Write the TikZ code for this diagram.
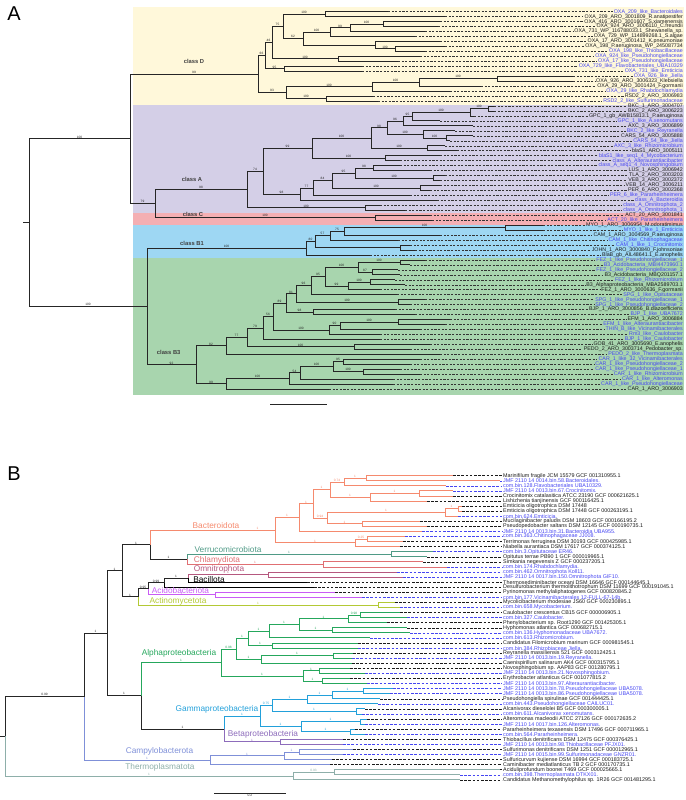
\documentclass[tikz,border=0pt]{standalone}
\usepackage{fontspec}
\setmainfont{Liberation Sans}

\definecolor{bgD}{HTML}{FFF8DA}
\definecolor{bgA}{HTML}{D4CFE7}
\definecolor{bgC}{HTML}{F4AFB3}
\definecolor{bgBa}{HTML}{9ED7F3}
\definecolor{bgBb}{HTML}{A8D5AE}
\definecolor{lb}{HTML}{4646F2}
\definecolor{lk}{HTML}{1A1A1A}
\definecolor{cBac}{HTML}{F58A6E}
\definecolor{cVer}{HTML}{4F9A86}
\definecolor{cChl}{HTML}{E06F73}
\definecolor{cOmn}{HTML}{B5587F}
\definecolor{cAci}{HTML}{C95BF5}
\definecolor{cAct}{HTML}{B3C935}
\definecolor{cAlp}{HTML}{25A75C}
\definecolor{cGam}{HTML}{22A0DA}
\definecolor{cBet}{HTML}{8D6CBB}
\definecolor{cCam}{HTML}{7F90D8}
\definecolor{cThe}{HTML}{8EAFAA}

\tikzset{
  tb/.style={line width=0.9pt, color=black!85},
  bs/.style={pos=.75, above, inner sep=0.3pt, font=\fontsize{3.2}{3.2}\selectfont},
  lfA/.style={anchor=east, inner sep=0pt, font=\fontsize{5.3}{5.3}\selectfont},
  lfB/.style={anchor=west, inner sep=0pt, font=\fontsize{5.4}{5.4}\selectfont},
  dsA/.style={line width=.5pt, dash pattern=on 2.2pt off 1.4pt, black!80, shorten >=1pt},
  dsB/.style={line width=.55pt, dash pattern=on 2.6pt off 1.6pt, shorten >=1pt},
  cls/.style={font=\bfseries\fontsize{5.8}{6}\selectfont, text=black!75, inner sep=0pt},
  clb/.style={font=\fontsize{8.3}{8.5}\selectfont, inner sep=0pt},
  pan/.style={font=\fontsize{20}{20}\selectfont, inner sep=0pt}
}
% one branch of a rectangular tree: parent |- child, support value on top
\newcommand{\branch}[4][]{\draw[tb,#1] (#3) |- node[bs]{#2} (#4);}

\begin{document}
\catcode`\_=12
\begin{tikzpicture}[x=1pt,y=-1pt]
\useasboundingbox (0,0) rectangle (685,800);

% panel A
\fill[bgD] (133,7.5) rectangle (684,104.5);
\fill[bgA] (133,104.5) rectangle (684,213);
\fill[bgC] (133,213) rectangle (684,224.5);
\fill[bgBa] (133,224.5) rectangle (684,258);
\fill[bgBb] (133,258) rectangle (684,394.5);
\node[pan] (pA) at (14,14) {A};

\begin{scope}[y=-4.965pt, yshift=-6.735pt]
% class D
\coordinate (d1) at (325,1.5);
\coordinate (d2) at (383,3.5);
\coordinate (d3) at (350,4.25);
\coordinate (d4) at (330,5.13);
\coordinate (d5) at (395,8.5);
\coordinate (d7) at (375,7.75);
\coordinate (d6) at (303,6.44);
\coordinate (d8) at (283,3.97);
\coordinate (d9) at (338,10.5);
\coordinate (d10) at (272,7.23);
\coordinate (d11) at (284,12.5);
\coordinate (d12) at (265,9.87);
\coordinate (d13b) at (497,14.5);
\coordinate (d13) at (419,15.25);
\coordinate (d14) at (372,16.13);
\coordinate (d15) at (326,18.5);
\coordinate (d16) at (286,17.31);
\coordinate (D0) at (258,13.59);
% class A / C
\coordinate (nE) at (488,20.5);
\coordinate (nF) at (470,21.25);
\coordinate (nG) at (412,22.13);
\coordinate (nH) at (403,23.06);
\coordinate (nI) at (446,26.5);
\coordinate (nI2) at (423,25.75);
\coordinate (nC) at (387,24.41);
\coordinate (nD) at (427,28.5);
\coordinate (nA) at (371,26.45);
\coordinate (nB) at (385,30.5);
\coordinate (A11) at (312,28.48);
\coordinate (nM) at (373,32.5);
\coordinate (nN) at (433,34.5);
\coordinate (nL) at (355,33.5);
\coordinate (nP) at (420,36.5);
\coordinate (nK) at (332,35);
\coordinate (nJ) at (313,36.5);
\coordinate (nQ) at (300,37.75);
\coordinate (A1) at (263,33.11);
\coordinate (nS) at (365,40.5);
\coordinate (Aroot) at (247,36.81);
\coordinate (Croot) at (375,42.5);
\coordinate (ACroot) at (155,39.65);
\coordinate (Top) at (130,26.62);
% class B1
\coordinate (p1) at (505,44.5);
\coordinate (p2) at (344,45.25);
\coordinate (p3) at (330,46.13);
\coordinate (p4) at (400,48.5);
\coordinate (p5) at (315,47.31);
\coordinate (B1) at (306,48.66);
% class B3
\coordinate (nU1) at (400,51.5);
\coordinate (nU2) at (372,53.5);
\coordinate (nU) at (358,52.5);
\coordinate (nT1) at (370,55.5);
\coordinate (nT) at (348,56.25);
\coordinate (B3h) at (325,54.38);
\coordinate (B3g) at (311,56.19);
\coordinate (nV) at (398,59.5);
\coordinate (B3f) at (296,57.84);
\coordinate (nW) at (313,61.5);
\coordinate (B3e) at (286,59.67);
\coordinate (nX2) at (398,63.5);
\coordinate (nX1) at (340,64.25);
\coordinate (nX) at (329,65.13);
\coordinate (B3d) at (273,62.4);
\coordinate (B3c) at (263,64.7);
\coordinate (nY) at (354,68.5);
\coordinate (B3b) at (247,66.6);
\coordinate (B3a) at (226,68.3);
\coordinate (nZ4) at (343,71.5);
\coordinate (nZ5) at (363,73.5);
\coordinate (nZ3) at (333,72.5);
\coordinate (nZ2) at (300,73.75);
\coordinate (nZ1) at (289,74.88);
\coordinate (B3z) at (226,75.94);
\coordinate (B3) at (196,72.12);
\coordinate (Broot) at (147,60.39);
\coordinate (Root) at (29,43.5);
\coordinate (Rs) at (23,43.5);

\foreach \i/\pa/\tx/\col/\txt in {
 1/d1/388/lb/OXA_209_like_Bacteroidales,
 2/d1/445/lk/OXA_209_ARO_3001809_R.anatipestifer,
 3/d2/440/lk/OXA_416_ARO_3001607_S.xiamenensis,
 4/d2/438/lk/OXA_924_ARO_3006110_C.freundii,
 5/d3/425/lk/OXA_731_WP_116788033.1_Shewanella_sp.,
 6/d4/415/lk/OXA_729_WP_114899268.1_S.algae,
 7/d7/440/lk/OXA_17_ARO_3001412_K.pneumoniae,
 8/d5/445/lk/OXA_198_P.aeruginosa_WP_245087734,
 9/d5/425/lb/OXA_198_like_Thiobacillaceae,
 10/d9/420/lb/OXA_924_like_Pseudohongiellaceae,
 11/d9/398/lb/OXA_17_like_Pseudohongiellaceae,
 12/d11/362/lb/OXA_729_like_Flavobacteriales_UBA10329,
 13/d11/362/lb/OXA_731_like_Emticicia,
 14/d13b/573/lb/OXA_926_like_Jiella,
 15/d13b/573/lk/OXA_926_ARO_3006323_Klebsiella,
 16/d13/481/lk/OXA_29_ARO_3001424_F.gormanii,
 17/d14/450/lb/OXA_29_like_Rhabdochlamydia,
 18/d15/373/lk/RSD2_2_ARO_3006983,
 19/d15/378/lb/RSD2_2_like_Sulfurimonadaceae,
 20/nE/494/lk/BKC_1_ARO_3004707,
 21/nE/494/lk/BKC_2_ARO_3006223,
 22/nF/474/lk/GPC_1_gb_AWB15813.1_P.aeruginosa,
 23/nG/440/lb/GPC_1_like_A.xenomutans,
 24/nH/473/lk/AXC_3_ARO_3006899,
 25/nI2/455/lb/BKC_2_like_Reyranella,
 26/nI/473/lk/CARS_54_ARO_3005888,
 27/nI/450/lb/CARS_54_like_Jiella,
 28/nD/445/lb/AXC_3_like_Rhizomicrobium,
 29/nD/457/lk/blaS1_ARO_3005111,
 30/nB/440/lb/blaS1_like_seq1_4_Mycobacterium,
 31/nB/400/lb/class_A_Alteraurantiacibacter,
 32/nM/400/lb/class_A_seq1_4_Novosphingobium,
 33/nM/430/lk/LUS_1_ARO_3006942,
 34/nN/445/lk/TLA_2_ARO_3003203,
 35/nN/440/lk/VEB_3_ARO_3002372,
 36/nP/440/lk/VEB_14_ARO_3006211,
 37/nP/430/lk/PER_6_ARO_3002368,
 38/nJ/410/lb/PER_6_like_Pararheinheimera,
 39/nQ/437/lb/class_A_Bacteroidia,
 40/nS/380/lb/class_A_Omnitrophota_2,
 41/nS/405/lb/class_A_Omnitrophota_1,
 42/Croot/430/lk/ACT_20_ARO_3001841,
 43/Croot/432/lb/ACT_20_like_Pararheinheimera,
 44/p1/543/lk/MYO_1_ARO_3006954_M.odoratimimus,
 45/p1/543/lb/MYO_1_like_1_Emticicia,
 46/p2/440/lk/CAM_1_ARO_3004569_P.aeruginosa,
 47/p3/398/lb/CAM_1_like_Chitinophagaceae,
 48/p4/410/lb/CAM_1_like_1_Crocinitomix,
 49/p4/415/lk/JOHN_1_ARO_3000840_F.johnsoniae,
 50/B1/370/lk/BlaB_gb_AIL48641.1_E.anophelis,
 51/nU1/425/lb/FEZ_1_like_Pseudohongiellaceae_1,
 52/nU1/410/lb/B3_Acidobacteria_MBI4473960.1,
 53/nU2/398/lb/FEZ_1_like_Pseudohongiellaceae_2,
 54/nU2/400/lk/B3_Acidobacteria_MBQ201157.1,
 55/nT1/395/lb/FEZ_1_like_Rhizomicrobium,
 56/nT1/405/lk/B3_Alphaproteobacteria_MBA2589703.1,
 57/nT/380/lk/FEZ_1_ARO_3000636_F.gormanii,
 58/B3g/397/lb/SPG_1_like_Opitutaceae,
 59/nV/425/lb/SPG_1_like_Pseudohongiellaceae_1,
 60/nV/410/lb/SPG_1_like_Pseudohongiellaceae_2,
 61/nW/395/lk/BJP_1_ARO_3000856_B.diazoefficiens,
 62/nW/415/lb/BJP_1_like_UBA7672,
 63/nX2/450/lk/EFM_1_ARO_3006884,
 64/nX2/445/lb/EFM_1_like_Alteraurantiacibacter,
 65/nX1/420/lb/THIN_B_like_Vicinamibacterales,
 66/nX/380/lb/Rm3_like_Caulobacter,
 67/B3c/380/lb/BJP_1_like_Caulobacter,
 68/nY/430/lk/GOB_41_ARO_3005690_E.anophelis,
 69/nY/410/lk/PEDO_2_ARO_3003714_Pedobacter_sp.,
 70/B3a/440/lb/PEDO_2_like_Thermoplasmata,
 71/nZ4/420/lb/CAR_1_like_32_Vicinamibacterales,
 72/nZ4/410/lb/CAR_1_like_Pseudohongiellaceae_2,
 73/nZ5/400/lb/CAR_1_like_Pseudohongiellaceae_1,
 74/nZ5/420/lb/CAR_1_like_Rhizomicrobium,
 75/nZ2/393/lb/CAR_1_like_Alteromonas,
 76/nZ1/393/lb/CAR_1_like_Pseudohongiellaceae,
 77/B3z/329/lk/CAR_1_ARO_3006903}{
  \coordinate (ta\i) at (\tx,\i);
  \node[lfA,text=\col] (xa\i) at (683,\i) {\txt};
  \draw[dsA] (ta\i) -- (xa\i.west);
  \branch{}{\pa}{ta\i}
}

\branch{100}{d8}{d1}
\branch{100}{d3}{d2}
\branch{99}{d4}{d3}
\branch{100}{d6}{d4}
\branch{100}{d7}{d5}
\branch{}{d6}{d7}
\branch{62}{d8}{d6}
\branch{75}{d10}{d8}
\branch{100}{d10}{d9}
\branch{46}{d12}{d10}
\branch{95}{d12}{d11}
\branch{66}{D0}{d12}
\branch{100}{d13}{d13b}
\branch{100}{d14}{d13}
\branch{100}{d16}{d14}
\branch{100}{d16}{d15}
\branch{93}{D0}{d16}
\branch{99}{Top}{D0}
\branch{100}{nF}{nE}
\branch{100}{nG}{nF}
\branch{95}{nH}{nG}
\branch{96}{nC}{nH}
\branch{100}{nI2}{nI}
\branch{100}{nC}{nI2}
\branch{98}{nA}{nC}
\branch{100}{nA}{nD}
\branch{100}{A11}{nA}
\branch{100}{A11}{nB}
\branch{99}{A1}{A11}
\branch{98}{nL}{nM}
\branch{100}{nL}{nN}
\branch{95}{nK}{nL}
\branch{100}{nK}{nP}
\branch{84}{nJ}{nK}
\branch{77}{nQ}{nJ}
\branch{98}{A1}{nQ}
\branch{74}{Aroot}{A1}
\branch{100}{Aroot}{nS}
\branch{98}{ACroot}{Aroot}
\branch{100}{ACroot}{Croot}
\branch{79}{Top}{ACroot}
\branch{100}{Root}{Top}
\branch{100}{p2}{p1}
\branch{75}{p3}{p2}
\branch{57}{p5}{p3}
\branch{}{p5}{p4}
\branch{80}{B1}{p5}
\branch{100}{Broot}{B1}
\branch{100}{nU}{nU1}
\branch{87}{nU}{nU2}
\branch{100}{B3h}{nU}
\branch{100}{nT}{nT1}
\branch{99}{B3h}{nT}
\branch{95}{B3g}{B3h}
\branch{96}{B3f}{B3g}
\branch{100}{B3f}{nV}
\branch{81}{B3e}{B3f}
\branch{98}{B3e}{nW}
\branch{100}{nX1}{nX2}
\branch{90}{nX}{nX1}
\branch{100}{B3d}{nX}
\branch{89}{B3d}{B3e}
\branch{56}{B3c}{B3d}
\branch{79}{B3b}{B3c}
\branch{100}{B3b}{nY}
\branch{77}{B3a}{B3b}
\branch{82}{B3}{B3a}
\branch{95}{nZ3}{nZ4}
\branch{100}{nZ3}{nZ5}
\branch{100}{nZ2}{nZ3}
\branch{54}{nZ1}{nZ2}
\branch{100}{B3z}{nZ1}
\branch{99}{B3}{B3z}
\branch{92}{Broot}{B3}
\branch{100}{Root}{Broot}
\draw[tb] (Rs) -- (Root);
\end{scope}

\node[cls] (lD) at (194,61.7) {class D};
\node[cls] (lA) at (192,179.3) {class A};
\node[cls] (lC) at (193,214.3) {class C};
\node[cls] (lB1) at (192,243.7) {class B1};
\node[cls] (lB3) at (168.7,352.3) {class B3};
\coordinate (sa1) at (270,404);
\coordinate (sa2) at (327,404);
\draw[tb] (sa1) -- (sa2);

% panel B
\node[pan] (pB) at (14,474) {B};

\begin{scope}[y=-5.07pt, yshift=-470.63pt]
\coordinate (n1) at (366,1.5);
\coordinate (n2) at (344,2.25);
\coordinate (n3) at (419,4.5);
\coordinate (n4) at (370,5.25);
\coordinate (n5) at (330,3.75);
\coordinate (n6) at (458,7.5);
\coordinate (n7) at (445,8.25);
\coordinate (n8) at (362,10.5);
\coordinate (n9) at (327,9.38);
\coordinate (n10) at (313,6.56);
\coordinate (n11) at (299,9.28);
\coordinate (n12) at (367,13.5);
\coordinate (n13) at (355,14.25);
\coordinate (n14) at (275,11.77);
\coordinate (n15) at (391,16.5);
\coordinate (n16) at (323,18.5);
\coordinate (n17) at (187,17.5);
\coordinate (n18) at (150,14.63);
\coordinate (n19) at (268,20.5);
\coordinate (n20) at (188,21.25);
\coordinate (n21) at (164,22.13);
\coordinate (n22) at (215,24.5);
\coordinate (n23) at (148,23.31);
\coordinate (n24) at (378,26.5);
\coordinate (n25) at (138,24.9);
\coordinate (n26) at (122,19.77);
\coordinate (a1) at (360,28.5);
\coordinate (a2) at (348,29.25);
\coordinate (a3) at (332,31.5);
\coordinate (a4) at (299,30.38);
\coordinate (a5) at (269,31.69);
\coordinate (a10) at (272,34.5);
\coordinate (a6) at (248,33.1);
\coordinate (a9) at (333,36.5);
\coordinate (a8) at (261,37.25);
\coordinate (a7) at (236,35.17);
\coordinate (a11) at (319,39.5);
\coordinate (a12) at (322,41.5);
\coordinate (a13) at (303,40.5);
\coordinate (a0) at (221,37.84);
\coordinate (g1) at (363,43.5);
\coordinate (g2) at (332,44.25);
\coordinate (g3) at (307,45.13);
\coordinate (g4) at (356,47.5);
\coordinate (g5) at (272,46.31);
\coordinate (g6) at (360,49.5);
\coordinate (g7) at (350,51.5);
\coordinate (g8) at (301,50.5);
\coordinate (g9) at (260,48.41);
\coordinate (b1) at (280,53.5);
\coordinate (g0) at (224,50.95);
\coordinate (n27) at (141,44.4);
\coordinate (n28) at (107,32.08);
\coordinate (c1) at (299,55.5);
\coordinate (c2) at (284,56.25);
\coordinate (c3) at (210,57.13);
\coordinate (n29) at (84,44.6);
\coordinate (t1) at (334,59.5);
\coordinate (t2) at (293,60.25);
\coordinate (r) at (5,52.43);
\coordinate (rs) at (0,52.43);

\foreach \i/\pa/\k/\tx/\col/\txt in {
 1/n1/cBac/453/lk/Marinifilum fragile JCM 15579 GCF 001310955.1,
 2/n1/cBac/500/lb/JMF 2110 14 0014.bin.58.Bacteroidales.,
 3/n2/cBac/446/lb/com.bin.128.Flavobacteriales UBA10329.,
 4/n3/cBac/453/lb/JMF 2110 14 0013.bin.67.Crocinitomix.,
 5/n3/cBac/453/lk/Crocinitomix catalasitica ATCC 23190 GCF 000621625.1,
 6/n4/cBac/427/lk/Lishizhenia tianjinensis GCF 900116425.1,
 7/n6/cBac/462/lk/Emticicia oligotrophica DSM 17448,
 8/n6/cBac/462/lk/Emticicia oligotrophica DSM 17448 GCF 000263195.1,
 9/n7/cBac/458/lb/com.bin.624.Emticicia.,
 10/n8/cBac/420/lk/Mucilaginibacter paludis DSM 18603 GCF 000166195.2,
 11/n8/cBac/427/lk/Pseudopedobacter saltans DSM 12145 GCF 000190735.1,
 12/n11/cBac/422/lb/JMF 2110 14 0013.bin.31.Bacteroidia UBA955.,
 13/n12/cBac/405/lb/com.bin.363.Chitinophagaceae JJ008.,
 14/n12/cBac/403/lk/Terrimonas ferruginea DSM 30193 GCF 000425985.1,
 15/n13/cBac/400/lk/Niabella aurantiaca DSM 17617 GCF 000374125.1,
 16/n15/cVer/433/lb/com.bin.3.Opitutaceae ER46.,
 17/n15/cVer/427/lk/Opitutus terrae PB90 1 GCF 000019965.1,
 18/n16/cChl/423/lk/Simkania negevensis Z GCF 000237205.1,
 19/n16/cChl/447/lb/com.bin.174.Rhabdochlamydia.,
 20/n19/cOmn/397/lb/com.bin.462.Omnitrophota Koll11.,
 21/n19/cOmn/403/lb/JMF 2110 14 0017.bin.150.Omnitrophota GIF10.,
 22/n20/black/307/lk/Thermosediminibacter oceani DSM 16646 GCF 000144645.1,
 23/n21/black/314/lk/Desulfurobacterium thermolithotrophum DSM 11699 GCF 000191045.1,
 24/n22/cAci/335/lk/Pyrinomonas methylaliphatogenes GCF 000820845.2,
 25/n22/cAci/362/lb/com.bin.177.Vicinamibacterales 12-FULL-67-14b.,
 26/n24/cAct/395/lk/Mycolicibacterium rhodesiae JS60 GCF 000230895.1,
 27/n24/cAct/400/lb/com.bin.658.Mycobacterium.,
 28/a1/cAlp/400/lk/Caulobacter crescentus CB15 GCF 000006905.1,
 29/a1/cAlp/407/lb/com.bin.327.Caulobacter.,
 30/a2/cAlp/387/lk/Phenylobacterium sp. Root1290 GCF 001425305.1,
 31/a3/cAlp/407/lk/Hyphomonas atlantica GCF 000682715.1,
 32/a3/cAlp/410/lb/com.bin.136.Hyphomonadaceae UBA7672.,
 33/a5/cAlp/370/lb/com.bin.613.Rhizomicrobium.,
 34/a10/cAlp/358/lk/Candidatus Filomicrobium marinum GCF 000981545.1,
 35/a10/cAlp/358/lb/com.bin.384.Rhizobiaceae Jiella.,
 36/a9/cAlp/353/lk/Reyranella massiliensis 521 GCF 000312425.1,
 37/a9/cAlp/352/lb/JMF 2110 14 0013.bin.19.Reyranella.,
 38/a8/cAlp/352/lk/Caenispirillum salinarum AK4 GCF 000315795.1,
 39/a11/cAlp/350/lk/Novosphingobium sp. AAP83 GCF 001280795.1,
 40/a11/cAlp/365/lb/JMF 2110 14 0013.bin.21.Novosphingobium.,
 41/a12/cAlp/350/lk/Erythrobacter atlanticus GCF 001077815.2,
 42/a12/cAlp/367/lb/JMF 2110 14 0013.bin.97.Alteraurantiacibacter.,
 43/g1/cGam/393/lb/JMF 2110 14 0013.bin.78.Pseudohongiellaceae UBA5078.,
 44/g1/cGam/390/lb/JMF 2110 14 0013.bin.86.Pseudohongiellaceae UBA5078.,
 45/g2/cGam/380/lk/Pseudohongiella spirulinae GCF 001444425.1,
 46/g3/cGam/378/lb/com.bin.443.Pseudohongiellaceae CAILUC01.,
 47/g4/cGam/365/lk/Alcanivorax dieselolei B5 GCF 000300005.1,
 48/g4/cGam/362/lb/com.bin.611.Alcanivorax xenomutans.,
 49/g6/cGam/367/lk/Alteromonas macleodii ATCC 27126 GCF 000172635.2,
 50/g6/cGam/365/lb/JMF 2110 14 0017.bin.126.Alteromonas.,
 51/g7/cGam/355/lk/Pararheinheimera texasensis DSM 17496 GCF 000711965.1,
 52/g7/cGam/365/lb/com.bin.564.Pararheinheimera.,
 53/b1/cBet/343/lk/Thiobacillus denitrificans DSM 12475 GCF 000376425.1,
 54/b1/cBet/343/lb/JMF 2110 14 0013.bin.98.Thiobacillaceae PFJX01.,
 55/c1/cCam/353/lk/Sulfurimonas denitrificans DSM 1251 GCF 000012965.1,
 56/c1/cCam/343/lb/JMF 2110 14 0015.bin.99.Sulfurimonadaceae GNZR01.,
 57/c2/cCam/332/lk/Sulfuricurvum kujiense DSM 16994 GCF 000183725.1,
 58/c3/cCam/330/lk/Caminibacter mediatlanticus TB 2 GCF 000170735.1,
 59/t1/cThe/500/lk/Aciduliprofundum boonei T469 GCF 000025665.1,
 60/t1/cThe/460/lb/com.bin.398.Thermoplasmata DTKX01.,
 61/t2/cThe/460/lk/Candidatus Methanomethylophilus sp. 1R26 GCF 001481295.1}{
  \coordinate (tb\i) at (\tx,\i);
  \node[lfB,text=\col] (xb\i) at (503,\i) {\txt};
  \draw[dsB,draw=\col] (tb\i) -- (xb\i.west);
  \branch[color=\k]{}{\pa}{tb\i}
}

\branch[cBac]{0.74}{n5}{n2}
\branch[cBac]{1}{n2}{n1}
\branch[cBac]{1}{n4}{n3}
\branch[cBac]{1}{n5}{n4}
\branch[cBac]{1}{n10}{n5}
\branch[cBac]{1}{n7}{n6}
\branch[cBac]{1}{n9}{n7}
\branch[cBac]{1}{n9}{n8}
\branch[cBac]{0.94}{n10}{n9}
\branch[cBac]{1}{n11}{n10}
\branch[cBac]{1}{n14}{n11}
\branch[cBac]{0.25}{n13}{n12}
\branch[cBac]{1}{n14}{n13}
\branch[cBac,bs/.append style={pos=.93}]{1}{n18}{n14}
\branch[cVer]{1}{n17}{n15}
\branch[cChl]{1}{n17}{n16}
\branch{1}{n18}{n17}
\branch{1}{n26}{n18}
\branch[cOmn]{1}{n20}{n19}
\branch{1}{n21}{n20}
\branch{0.99}{n23}{n21}
\branch[cAci]{1}{n23}{n22}
\branch{0.95}{n25}{n23}
\branch[cAct]{1}{n25}{n24}
\branch{1}{n26}{n25}
\branch{1}{n28}{n26}
\branch[cAlp]{0.98}{a2}{a1}
\branch[cAlp]{1}{a4}{a2}
\branch[cAlp]{1}{a4}{a3}
\branch[cAlp]{1}{a5}{a4}
\branch[cAlp]{1}{a6}{a5}
\branch[cAlp]{1}{a6}{a10}
\branch[cAlp]{1}{a7}{a6}
\branch[cAlp]{1}{a8}{a9}
\branch[cAlp]{1}{a7}{a8}
\branch[cAlp]{0.98}{a0}{a7}
\branch[cAlp]{1}{a13}{a11}
\branch[cAlp]{1}{a13}{a12}
\branch[cAlp]{1}{a0}{a13}
\branch[cAlp]{1}{n27}{a0}
\branch[cGam]{1}{g2}{g1}
\branch[cGam]{1}{g3}{g2}
\branch[cGam]{1}{g5}{g3}
\branch[cGam]{1}{g5}{g4}
\branch[cGam]{0.75}{g9}{g5}
\branch[cGam]{1}{g8}{g6}
\branch[cGam]{1}{g8}{g7}
\branch[cGam]{1}{g9}{g8}
\branch[cGam]{1}{g0}{g9}
\branch[cBet]{1}{g0}{b1}
\branch{1}{n27}{g0}
\branch{1}{n28}{n27}
\branch{1}{n29}{n28}
\branch[cCam]{1}{c2}{c1}
\branch[cCam]{1}{c3}{c2}
\branch[cCam]{1}{n29}{c3}
\branch[cThe]{0.93}{t2}{t1}
\branch[cThe]{1}{r}{t2}
\branch{0.99}{r}{n29}
\draw[tb] (rs) -- (r);
\end{scope}

\node[clb,text=cBac] (kBac) at (216,526) {Bacteroidota};
\node[clb,text=cVer] (kVer) at (228,549.7) {Verrucomicrobiota};
\node[clb,text=cChl] (kChl) at (217,560) {Chlamydiota};
\node[clb,text=cOmn] (kOmn) at (219,569.8) {Omnitrophota};
\node[clb,text=black] (kBci) at (209,579.3) {Bacillota};
\node[clb,text=cAci] (kAci) at (180.5,590.8) {Acidobacteriota};
\node[clb,text=cAct] (kAct) at (178,601.2) {Actinomycetota};
\node[clb,text=cAlp] (kAlp) at (179,653) {Alphaproteobacteria};
\node[clb,text=cGam] (kGam) at (217,709.3) {Gammaproteobacteria};
\node[clb,text=cBet] (kBet) at (263,734) {Betaproteobacteria};
\node[clb,text=cCam] (kCam) at (159.5,751) {Campylobacterota};
\node[clb,text=cThe] (kThe) at (160,767.3) {Thermoplasmatota};
\coordinate (sb1) at (214,793);
\coordinate (sb2) at (286,793);
\draw[tb] (sb1) -- node[below=0.6pt, inner sep=0pt, font=\fontsize{3.4}{3.4}\selectfont] (sbl) {0.2} (sb2);
\end{tikzpicture}
\end{document}
